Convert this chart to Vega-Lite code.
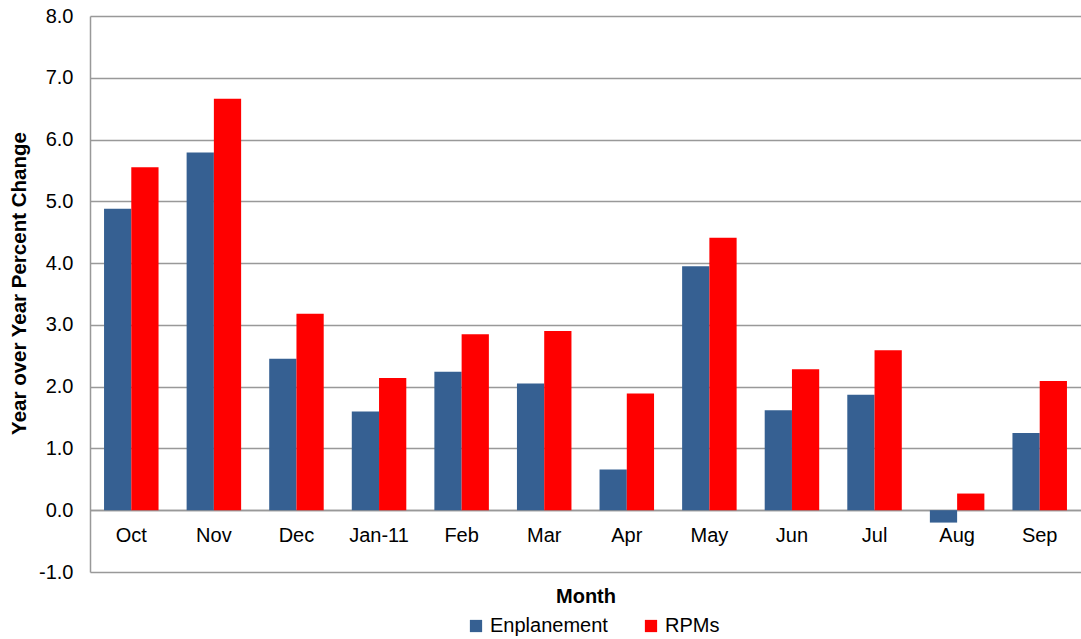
{
  "$schema": "https://vega.github.io/schema/vega-lite/v6.json",
  "width": 991,
  "height": 556,
  "autosize": {"type": "none"},
  "padding": {"left": 90, "top": 16, "right": 0, "bottom": 67},
  "background": "white",
  "config": {
    "font": "Liberation Sans",
    "view": {"stroke": null}
  },
  "data": {
    "values": [
      {"month": "Oct", "series": "Enplanement", "value": 4.88},
      {"month": "Oct", "series": "RPMs", "value": 5.55},
      {"month": "Nov", "series": "Enplanement", "value": 5.79},
      {"month": "Nov", "series": "RPMs", "value": 6.66},
      {"month": "Dec", "series": "Enplanement", "value": 2.45},
      {"month": "Dec", "series": "RPMs", "value": 3.18},
      {"month": "Jan-11", "series": "Enplanement", "value": 1.6},
      {"month": "Jan-11", "series": "RPMs", "value": 2.14},
      {"month": "Feb", "series": "Enplanement", "value": 2.24},
      {"month": "Feb", "series": "RPMs", "value": 2.85},
      {"month": "Mar", "series": "Enplanement", "value": 2.05},
      {"month": "Mar", "series": "RPMs", "value": 2.9},
      {"month": "Apr", "series": "Enplanement", "value": 0.66},
      {"month": "Apr", "series": "RPMs", "value": 1.89},
      {"month": "May", "series": "Enplanement", "value": 3.95},
      {"month": "May", "series": "RPMs", "value": 4.41},
      {"month": "Jun", "series": "Enplanement", "value": 1.62},
      {"month": "Jun", "series": "RPMs", "value": 2.28},
      {"month": "Jul", "series": "Enplanement", "value": 1.87},
      {"month": "Jul", "series": "RPMs", "value": 2.59},
      {"month": "Aug", "series": "Enplanement", "value": -0.2},
      {"month": "Aug", "series": "RPMs", "value": 0.27},
      {"month": "Sep", "series": "Enplanement", "value": 1.25},
      {"month": "Sep", "series": "RPMs", "value": 2.09}
    ]
  },
  "mark": {"type": "bar"},
  "encoding": {
    "x": {
      "field": "month",
      "type": "nominal",
      "sort": null,
      "scale": {"paddingInner": 0.34, "paddingOuter": 0.17},
      "axis": {
        "title": "Month",
        "orient": "bottom",
        "offset": -62,
        "labelAngle": 0,
        "labelFontSize": 20,
        "labelColor": "#000000",
        "labelPadding": 15,
        "ticks": false,
        "domain": true,
        "domainColor": "#999999",
        "domainWidth": 1.5,
        "titleFontSize": 20,
        "titleFontWeight": "bold",
        "titleColor": "#000000",
        "titlePadding": 41
      }
    },
    "xOffset": {"field": "series", "type": "nominal", "sort": ["Enplanement", "RPMs"]},
    "y": {
      "field": "value",
      "type": "quantitative",
      "scale": {"domain": [-1, 8], "nice": false},
      "axis": {
        "title": "Year over Year Percent Change",
        "values": [-1, 0, 1, 2, 3, 4, 5, 6, 7, 8],
        "labelExpr": "datum.value < 0 ? '-' + format(-datum.value, '.1f') : format(datum.value, '.1f')",
        "labelFontSize": 20,
        "labelColor": "#000000",
        "labelPadding": 17,
        "ticks": false,
        "domain": true,
        "domainColor": "#999999",
        "domainWidth": 1.5,
        "grid": true,
        "gridColor": "#999999",
        "gridWidth": 1.5,
        "titleFontSize": 20.5,
        "titleFontWeight": "bold",
        "titleColor": "#000000",
        "titlePadding": 9,
        "titleY": 267
      }
    },
    "color": {
      "field": "series",
      "type": "nominal",
      "scale": {"domain": ["Enplanement", "RPMs"], "range": ["#366092", "#FF0000"]},
      "legend": {
        "title": null,
        "orient": "none",
        "legendX": 376,
        "legendY": 600,
        "direction": "horizontal",
        "symbolType": "square",
        "symbolSize": 150,
        "symbolStrokeWidth": 0,
        "labelFontSize": 20,
        "labelColor": "#000000",
        "columnPadding": 33,
        "labelOffset": 4
      }
    }
  }
}
